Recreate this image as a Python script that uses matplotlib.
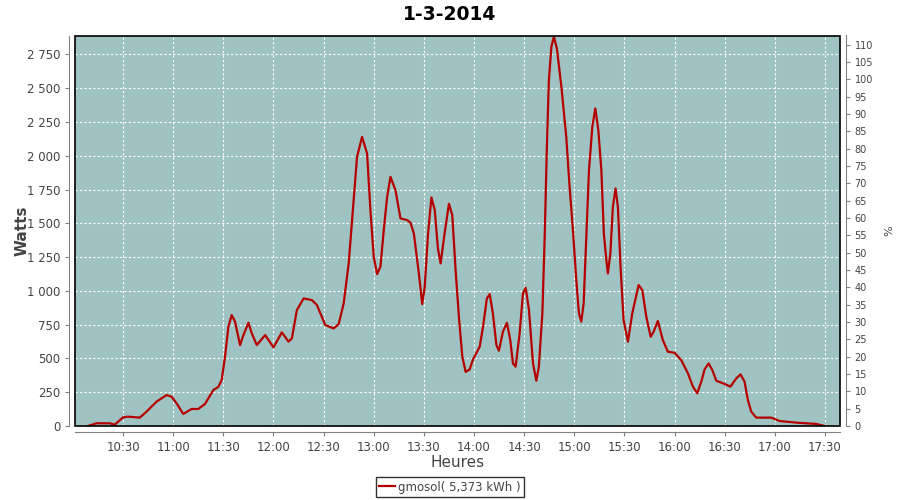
import matplotlib
matplotlib.use("Agg")
import matplotlib.pyplot as plt
from matplotlib.patches import Rectangle

# minutes after 10:00, and power in watts
minutes = [9, 14, 22, 25, 30, 33, 40, 44, 50, 56, 59, 62, 66, 71, 75, 79, 84, 87, 89, 91,
           93, 95, 97, 100, 102, 105, 107, 110, 115, 120, 125, 129, 131, 134, 138, 143, 146,
           151, 156, 159, 162, 165, 168, 170, 173, 176, 178, 180, 182, 184, 186, 188, 190,
           193, 196, 200, 202, 204, 207, 209, 210.5, 212.5, 214.5, 216.5, 218.4, 220, 222.4,
           225, 227, 229, 231, 233, 235, 237.4, 239.4, 243.4, 245.4, 247.7, 249.4, 251.3,
           253.4, 254.9, 257.3, 259.7, 261.7, 263.3, 264.9, 267.3, 269.3, 270.9, 272.9,
           275.3, 277.3, 278.8, 280.9, 282.3, 283.6, 284.8, 286.3, 287.8, 289.6, 292.3,
           295.2, 297.2, 299.2, 301.2, 302.8, 304.2, 305.6, 307.2, 308.8, 310.8, 312.6,
           314.4, 316.2, 317.7, 319.2, 320.1, 321.6, 323.1, 324.7, 326.1, 327.7, 329.5,
           332.1, 334.7, 338.5, 340.7, 343.1, 345.7, 347.5, 350, 353, 356, 360, 364, 368,
           371, 373.6, 376, 378, 380.4, 382.6, 385, 390, 393.4, 397, 399.5, 401.9, 403.9,
           405.9, 408.9, 417.9, 422.8, 432.8, 444.8, 449.8]
watts = [0, 20, 20, 10, 64, 69, 62, 106, 180, 229, 217, 168, 89, 126, 126, 163, 266, 290, 340, 513,
         735, 821, 772, 599, 673, 764, 686, 599, 673, 582, 693, 624, 648, 858, 944, 932, 895,
         747, 722, 754, 907, 1203, 1672, 1992, 2140, 2017, 1598, 1252, 1124, 1179, 1450, 1696, 1844,
         1745, 1536, 1524, 1504, 1425, 1129, 902, 1030, 1425, 1691, 1598, 1314, 1203, 1425,
         1645, 1560, 1150, 800, 513, 400, 419, 493, 587, 735, 944, 976, 833,
         599, 557, 698, 764, 636, 463, 439, 686, 981, 1023, 858,
         463, 335, 439, 833, 1400, 2066, 2559, 2806, 2880, 2794, 2510,
         2140, 1770, 1450, 1080, 833, 772, 907, 1400, 1893, 2214, 2350,
         2189, 1893, 1425, 1228, 1129, 1277, 1622, 1758, 1622, 1179, 784,
         624, 833, 1043, 1006, 809, 661, 698, 777, 636, 550, 542, 488, 390,
         291, 242, 328, 419, 463, 414, 335, 311, 291, 353, 382, 328, 192,
         106, 62, 62, 37, 25, 15, 0]

tick_minutes = [30, 60, 90, 120, 150, 180, 210, 240, 270, 300, 330, 360, 390, 420, 450]
tick_labels = ["10:30", "11:00", "11:30", "12:00", "12:30", "13:00", "13:30", "14:00",
               "14:30", "15:00", "15:30", "16:00", "16:30", "17:00", "17:30"]
watt_ticks = list(range(0, 2751, 250))
pct_ticks = list(range(0, 111, 5))

fig = plt.figure(figsize=(9, 5), dpi=100)
ax = fig.add_axes([0.0833, 0.148, 0.85, 0.781])
ax.set_facecolor("#9FC3C2")

ax.plot(minutes, watts, color="#B40000", linewidth=1.6, label="gmosol( 5,373 kWh )")

ax.set_xlim(1.2, 459)
ax.set_ylim(0, 2890)
ax.set_xticks(tick_minutes)
ax.set_xticklabels(tick_labels)
ax.set_yticks(watt_ticks)
ax.set_yticklabels([f"{v:,}".replace(",", " ") for v in watt_ticks])
ax.grid(True, color="white", linestyle=(0, (2, 2)), linewidth=0.8)

grey = "#808080"
for side in ["left", "bottom"]:
    ax.spines[side].set_position(("outward", 4))
    ax.spines[side].set_color(grey)
ax.spines["top"].set_visible(False)
ax.spines["right"].set_visible(False)
ax.add_patch(Rectangle((0, 0), 1, 1, transform=ax.transAxes, fill=False,
                       edgecolor="black", linewidth=1.2, zorder=5, clip_on=False))
ax.tick_params(colors=grey, labelcolor="#444444", labelsize=8.5, length=3)

ax.set_xlabel("Heures", fontsize=11, color="#444444", labelpad=1)
ax.set_ylabel("Watts", fontsize=11, color="#444444", fontweight="bold", labelpad=-2)

ax2 = ax.twinx()
ax2.set_ylim(0, 112.6)
ax2.set_yticks(pct_ticks)
ax2.spines["right"].set_position(("outward", 4))
ax2.spines["right"].set_color(grey)
for side in ["left", "top", "bottom"]:
    ax2.spines[side].set_visible(False)
ax2.tick_params(colors=grey, labelcolor="#444444", labelsize=7, length=3)
ax2.set_ylabel("%", fontsize=8, color="#444444", labelpad=8)

fig.suptitle("1-3-2014", fontsize=13.5, fontweight="bold", y=0.99)

leg = fig.legend(loc="center", bbox_to_anchor=(0.5, 0.026), fontsize=8.5, frameon=True,
                 fancybox=False, handlelength=1.3, handletextpad=0.3, borderpad=0.3)
leg.get_frame().set_edgecolor("black")
leg.get_frame().set_linewidth(1.0)
for t in leg.get_texts():
    t.set_color("#444444")

fig.savefig("out.png", dpi=100)
